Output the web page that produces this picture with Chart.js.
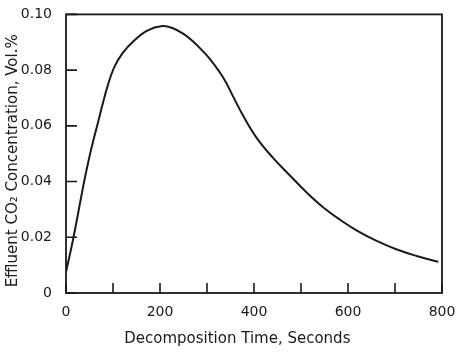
<!DOCTYPE html>
<html>
<head>
<meta charset="utf-8">
<script src="https://cdn.jsdelivr.net/npm/chart.js@4"></script>
<style>
html,body{margin:0;padding:0;background:#fff;}
#wrap{width:474px;height:356px;}
</style>
</head>
<body>
<div id="wrap"><canvas id="c" width="474" height="356"></canvas></div>
<script>
const timeSeconds = [0, 16, 38, 50, 60, 67, 77, 88, 102, 120, 145, 173, 205, 225, 250, 271, 290, 306, 335, 356, 377, 406, 441, 477, 512, 547, 583, 618, 661, 704, 746, 792];
const co2Percent = [0.0075, 0.020, 0.0395, 0.0490, 0.0560, 0.0605, 0.0672, 0.0740, 0.0808, 0.0860, 0.0906, 0.0942, 0.0958, 0.0952, 0.0930, 0.0902, 0.0870, 0.0840, 0.0772, 0.0704, 0.0636, 0.0556, 0.0484, 0.0421, 0.0361, 0.0308, 0.0263, 0.0225, 0.0187, 0.0156, 0.0133, 0.0112];
const xTickValues = [0, 100, 200, 300, 400, 500, 600, 700, 800];
const yTickValues = [0, 0.02, 0.04, 0.06, 0.08, 0.10];

const pts = timeSeconds.map((t, i) => ({x: t, y: co2Percent[i]}));
const INK = '#1a1a1a';
const FONT = "'DejaVu Sans', sans-serif";
const NB = '\u00a0';

const frame = {
  id: 'frame',
  afterDraw(chart) {
    const {ctx, chartArea: a, scales: {x, y}} = chart;
    ctx.save();
    ctx.strokeStyle = INK;
    ctx.lineWidth = 1.8;
    ctx.strokeRect(a.left, a.top, a.right - a.left, a.bottom - a.top);
    ctx.lineWidth = 1.6;
    ctx.beginPath();
    xTickValues.forEach(v => {
      const px = x.getPixelForValue(v);
      ctx.moveTo(px, a.bottom);
      ctx.lineTo(px, a.bottom - 10);
    });
    yTickValues.forEach(v => {
      const py = y.getPixelForValue(v);
      ctx.moveTo(a.left, py);
      ctx.lineTo(a.left + 11, py);
    });
    ctx.stroke();
    ctx.restore();
  }
};

new Chart(document.getElementById('c'), {
  type: 'line',
  data: {
    datasets: [{
      data: pts,
      borderColor: INK,
      borderWidth: 2,
      pointRadius: 0,
      tension: 0.4,
      fill: false
    }]
  },
  options: {
    responsive: false,
    animation: false,
    devicePixelRatio: 1,
    layout: {padding: {top: 12, right: 32, left: 0, bottom: 0}},
    plugins: {legend: {display: false}, tooltip: {enabled: false}},
    scales: {
      x: {
        type: 'linear',
        min: 0, max: 800,
        afterBuildTicks(s) { s.ticks = xTickValues.map(v => ({value: v})); },
        grid: {display: false},
        border: {display: false},
        ticks: {
          color: INK,
          font: {family: FONT, size: 14},
          padding: 3,
          maxRotation: 0,
          autoSkip: false,
          callback: v => (v % 200 === 0 ? String(v) : '')
        },
        title: {
          display: true,
          text: 'Decomposition Time, Seconds' + NB.repeat(7),
          color: INK,
          font: {family: FONT, size: 15},
          padding: {top: 4, bottom: 8}
        },
        afterFit(s) { s.height = 63; }
      },
      y: {
        type: 'linear',
        min: 0, max: 0.10,
        afterBuildTicks(s) { s.ticks = yTickValues.map(v => ({value: v})); },
        grid: {display: false},
        border: {display: false},
        ticks: {
          color: INK,
          font: {family: FONT, size: 14},
          padding: 6,
          autoSkip: false,
          callback: v => (v === 0 ? '0' : v.toFixed(2))
        },
        title: {
          display: true,
          text: 'Effluent CO\u2082 Concentration, Vol.%' + NB.repeat(3),
          color: INK,
          font: {family: FONT, size: 15},
          padding: {top: 4, bottom: 4}
        },
        afterFit(s) { s.width = 66; }
      }
    }
  },
  plugins: [frame]
});
</script>
</body>
</html>
